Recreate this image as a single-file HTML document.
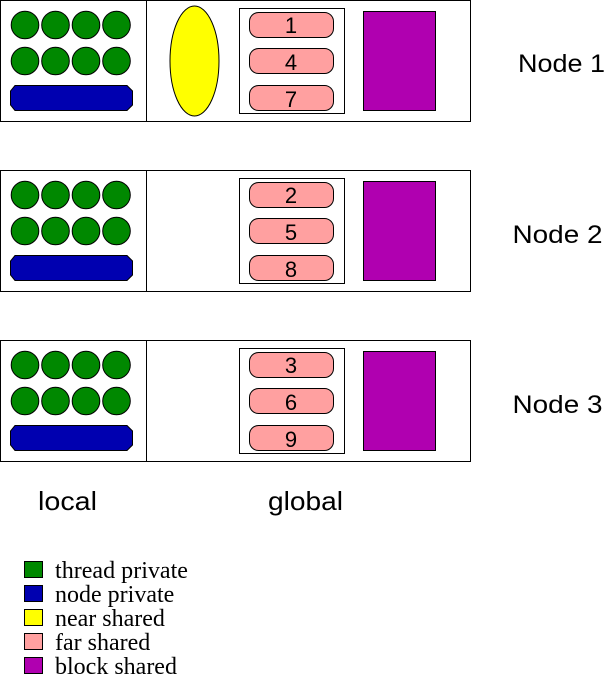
<!DOCTYPE html>
<html><head><meta charset="utf-8"><style>
html,body{margin:0;padding:0;background:#fff;}
svg{display:block;}
</style></head><body>
<svg width="605" height="676" viewBox="0 0 605 676" xmlns="http://www.w3.org/2000/svg">
<defs>
<g id="node">
  <rect x="0.5" y="0.5" width="470" height="121" fill="#fff" stroke="#000" stroke-width="1"/>
  <line x1="146.5" y1="0.5" x2="146.5" y2="121.5" stroke="#000" stroke-width="1"/>
  <g fill="#008800" stroke="#000" stroke-width="1">
    <circle cx="25" cy="25" r="13.8"/><circle cx="55.5" cy="25" r="13.8"/><circle cx="86" cy="25" r="13.8"/><circle cx="116.5" cy="25" r="13.8"/>
    <circle cx="25" cy="61" r="13.8"/><circle cx="55.5" cy="61" r="13.8"/><circle cx="86" cy="61" r="13.8"/><circle cx="116.5" cy="61" r="13.8"/>
  </g>
  <polygon points="15,85.5 127,85.5 132.5,91 132.5,105 127,110.5 15,110.5 10.5,105 10.5,91" fill="#0000b0" stroke="#000" stroke-width="1"/>
  <rect x="239.5" y="8.5" width="105" height="105" fill="#fff" stroke="#000" stroke-width="1"/>
  <g fill="#ffa0a0" stroke="#000" stroke-width="1">
    <rect x="249.5" y="12.5" width="84" height="25" rx="9" ry="9"/>
    <rect x="249.5" y="48.5" width="84" height="25" rx="9" ry="9"/>
    <rect x="249.5" y="85.5" width="84" height="25" rx="9" ry="9"/>
  </g>
  <rect x="363.5" y="11.5" width="72" height="99" fill="#b000b0" stroke="#000" stroke-width="1"/>
</g>
</defs>

<use href="#node" x="0" y="0"/>
<use href="#node" x="0" y="170"/>
<use href="#node" x="0" y="340"/>

<ellipse cx="194.5" cy="61" rx="24.5" ry="55" fill="#ffff00" stroke="#000" stroke-width="1"/>

<g font-family="'Liberation Sans', sans-serif" font-size="22" text-anchor="middle" fill="#000">
  <text x="291" y="33">1</text>
  <text x="291" y="70">4</text>
  <text x="291" y="107">7</text>
  <text x="291" y="203">2</text>
  <text x="291" y="240">5</text>
  <text x="291" y="277">8</text>
  <text x="291" y="373">3</text>
  <text x="291" y="410">6</text>
  <text x="291" y="447">9</text>
</g>

<g font-family="'Liberation Sans', sans-serif" font-size="25" fill="#000">
  <text x="518" y="72" textLength="87" lengthAdjust="spacingAndGlyphs">Node 1</text>
  <text x="512.5" y="243" textLength="90" lengthAdjust="spacingAndGlyphs">Node 2</text>
  <text x="512.5" y="413" textLength="90" lengthAdjust="spacingAndGlyphs">Node 3</text>
</g>
<g font-family="'Liberation Sans', sans-serif" font-size="26" fill="#000">
  <text x="38" y="510" textLength="59" lengthAdjust="spacingAndGlyphs">local</text>
  <text x="268" y="510" textLength="75" lengthAdjust="spacingAndGlyphs">global</text>
</g>

<g stroke="#000" stroke-width="1">
  <rect x="24.5" y="561.5" width="18" height="16" fill="#008800"/>
  <rect x="24.5" y="585.5" width="18" height="16" fill="#0000b0"/>
  <rect x="24.5" y="609.5" width="18" height="16" fill="#ffff00"/>
  <rect x="24.5" y="633.5" width="18" height="16" fill="#ffa0a0"/>
  <rect x="24.5" y="657.5" width="18" height="16" fill="#b000b0"/>
</g>
<g font-family="'Liberation Serif', serif" font-size="24" fill="#000">
  <text x="55" y="578" textLength="133" lengthAdjust="spacingAndGlyphs">thread private</text>
  <text x="55" y="602">node private</text>
  <text x="55" y="626">near shared</text>
  <text x="55" y="650">far shared</text>
  <text x="55" y="674">block shared</text>
</g>
</svg>
</body></html>
